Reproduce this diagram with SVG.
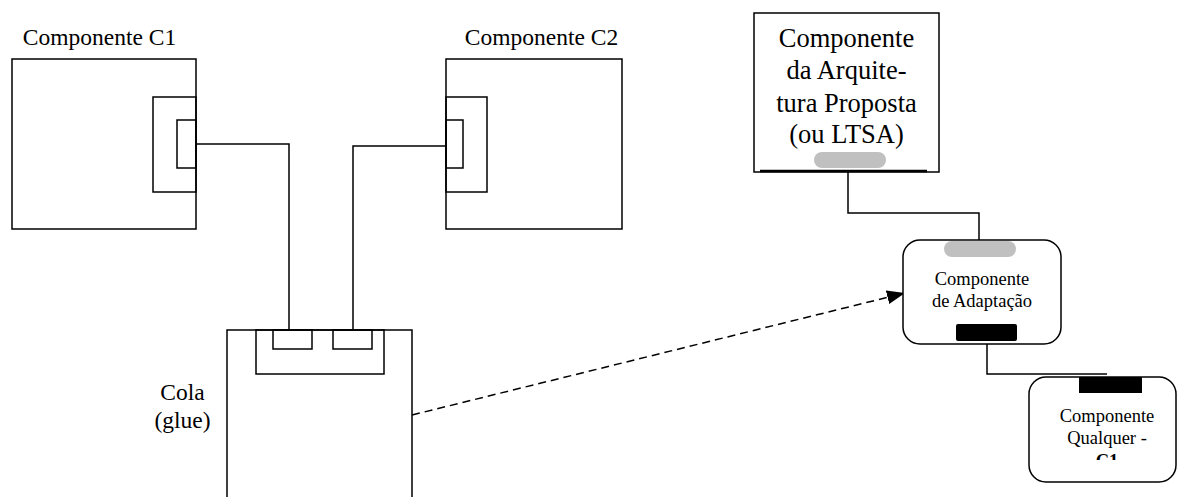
<svg xmlns="http://www.w3.org/2000/svg" width="1177" height="497" viewBox="0 0 1177 497">
<style>
.s{fill:none;stroke:#000;stroke-width:1.5}
.w{fill:#fff;stroke:#000;stroke-width:1.5}
.t{font-family:"Liberation Serif","Times New Roman",serif;fill:#000;text-anchor:middle}
</style>
<defs>
<marker id="ah" markerUnits="userSpaceOnUse" markerWidth="20" markerHeight="16" refX="18" refY="7" orient="auto">
<path d="M0,0 L18,7 L0,14 z" fill="#000"/>
</marker>
<clipPath id="cq"><rect x="1029" y="377" width="148" height="83"/></clipPath>
</defs>
<rect width="1177" height="497" fill="#fff"/>
<g id="connectors">
<path class="s" d="M196,144 H289 V330"/>
<path class="s" d="M446,146 H353 V330"/>
<path class="s" d="M848,172 V213 H979 V240"/>
<path class="s" d="M987,344 V374 H1107"/>
<path d="M412,415 L905,293" fill="none" stroke="#000" stroke-width="1.5" stroke-dasharray="8,5" marker-end="url(#ah)"/>
</g>
<g id="c1">
<rect class="s" x="12" y="59" width="184" height="170"/>
<rect class="s" x="153" y="97" width="43" height="95"/>
<rect class="s" x="177" y="120" width="19" height="48"/>
<text class="t" x="99.5" y="45" font-size="23.5">Componente C1</text>
</g>
<g id="c2">
<rect class="s" x="446" y="59" width="176" height="170"/>
<rect class="s" x="446" y="97" width="41" height="95"/>
<rect class="s" x="446" y="120" width="17" height="48"/>
<text class="t" x="541.5" y="45" font-size="23.5">Componente C2</text>
</g>
<g id="glue">
<path class="s" d="M227,500 V330 H412 V500"/>
<rect class="s" x="256" y="330" width="128" height="44"/>
<rect class="s" x="273" y="330" width="39" height="19"/>
<rect class="s" x="333" y="330" width="39" height="19"/>
<text class="t" x="182.5" y="400" font-size="23.5">Cola</text>
<text class="t" x="182.5" y="428" font-size="23.5">(glue)</text>
</g>
<g id="arch">
<rect class="s" x="754" y="13" width="185" height="159"/>
<line x1="760" y1="171" x2="927" y2="171" stroke="#000" stroke-width="2.5"/>
<rect x="814" y="152" width="72" height="16" rx="8" fill="#c0c0c0"/>
<text class="t" x="846.5" y="47" font-size="26.5">Componente</text>
<text class="t" x="846.5" y="79" font-size="26.5">da Arquite-</text>
<text class="t" x="846.5" y="112" font-size="26.5">tura Proposta</text>
<text class="t" x="846.5" y="143" font-size="26.5">(ou LTSA)</text>
</g>
<g id="adapt">
<rect class="w" x="903" y="240" width="158" height="104" rx="17"/>
<rect x="944" y="241" width="72" height="16" rx="8" fill="#c0c0c0"/>
<rect x="956" y="324" width="61" height="17" rx="2" fill="#000"/>
<text class="t" x="982" y="285" font-size="18.5">Componente</text>
<text class="t" x="982" y="307" font-size="18.5">de Adaptação</text>
</g>
<g id="qualquer">
<rect class="w" x="1029" y="377" width="147" height="105" rx="17"/>
<rect x="1079" y="377" width="63" height="16" fill="#000"/>
<g clip-path="url(#cq)">
<text class="t" x="1107" y="422" font-size="18.5">Componente</text>
<text class="t" x="1107" y="444" font-size="18.5">Qualquer -</text>
<text class="t" x="1107" y="467" font-size="18.5" font-weight="bold">C1</text>
</g>
</g>
</svg>
